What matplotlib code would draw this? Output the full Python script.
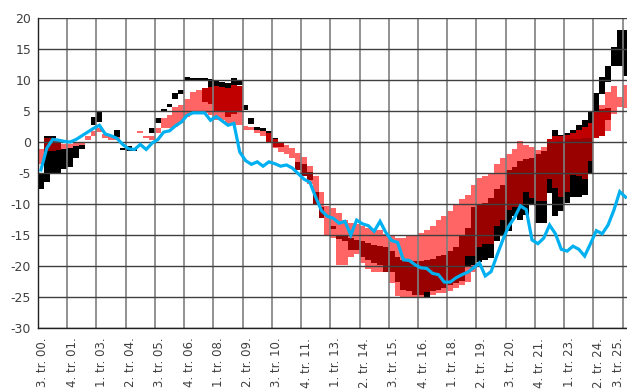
import numpy as np
import matplotlib
matplotlib.use('Agg')
import matplotlib.pyplot as plt
import matplotlib.transforms as mtransforms

nan = np.nan

# x tick labels (every 5th quarter, 3Q2000 .. 3Q2025)
tick_labels = ['3. tr. 00.', '4. tr. 01.', '1. tr. 03.', '2. tr. 04.', '3. tr. 05.',
               '4. tr. 06.', '1. tr. 08.', '2. tr. 09.', '3. tr. 10.', '4. tr. 11.',
               '1. tr. 13.', '2. tr. 14.', '3. tr. 15.', '4. tr. 16.', '1. tr. 18.',
               '2. tr. 19.', '3. tr. 20.', '4. tr. 21.', '1. tr. 23.', '2. tr. 24.',
               '3. tr. 25.']

# blue line, one value per quarter
plava = [-4.5, -1.0, 0.4, 0.3, 0.1, 0.0, 0.4, 1.0, 1.6, 2.2,
         2.7, 1.3, 1.0, 0.6, -0.4, -1.1, -1.2, -0.4, -1.2, -0.2,
         0.4, 1.6, 1.8, 2.6, 3.2, 4.3, 4.7, 4.7, 4.7, 3.5,
         4.1, 3.4, 2.7, 3.0, -1.6, -3.0, -3.6, -3.2, -3.9, -3.2,
         -3.5, -3.9, -3.7, -4.2, -5.1, -6.0, -6.5, -8.9, -11.1, -12.0,
         -12.3, -13.1, -12.8, -15.0, -12.6, -13.2, -13.5, -14.4, -12.8, -14.6,
         -15.9, -16.2, -19.0, -19.1, -19.8, -20.3, -20.4, -21.2, -21.4, -22.6,
         -22.6, -21.9, -21.4, -21.0, -20.3, -19.5, -21.6, -20.9, -18.3, -15.8,
         -13.6, -12.2, -10.3, -10.9, -15.8, -16.4, -15.5, -13.4, -14.8, -17.3,
         -17.6, -16.8, -17.3, -18.4, -16.4, -14.3, -14.8, -13.4, -11.0, -8.0,
         -8.9]

# light red ranges (low, high)
roza_lo = [-3.6, nan, nan, nan, -1.2, -1.0, -0.8, -0.5, 0.3, 1.0,
           1.6, 0.6, 0.4, 0.3, nan, nan, nan, 1.5, 0.7, 0.3,
           1.5, 2.2, 2.2, 2.5, 3.0, 4.0, 4.6, 4.6, 4.6, 4.3,
           3.5, 3.5, 2.7, 2.7, 2.7, 2.0, 1.9, 1.4, 1.0, nan,
           -0.9, -1.6, -2.0, -2.6, -3.5, -5.0, -6.7, -9.5, -11.2, -15.0,
           -15.5, -19.8, -19.8, -18.5, -18.0, -19.5, -20.5, -21.0, -21.0, -21.0,
           -22.7, -24.9, -25.2, -25.2, -25.0, -25.0, -24.6, -24.6, -24.4, -24.4,
           -24.0, -23.5, -23.0, -22.5, -21.0, -17.5, -17.0, -17.0, -14.0, -13.0,
           -11.7, -11.0, -10.9, -8.5, -9.3, -10.1, -10.0, -6.3, nan, nan,
           nan, nan, nan, nan, nan, nan, 1.5, 1.7, 4.5, 5.7,
           5.5]
roza_hi = [-1.2, nan, nan, nan, -0.4, -0.3, -0.2, 0.0, 1.0, 1.8,
           2.3, 1.3, 1.0, 0.8, nan, nan, nan, 1.8, 1.0, 1.0,
           2.3, 3.8, 4.4, 5.7, 6.0, 7.0, 8.0, 8.4, 8.5, 6.4,
           5.2, 5.0, 4.5, 4.6, 5.0, 2.6, 2.5, 2.0, 1.8, nan,
           0.0, 0.0, -0.5, -1.0, -1.8, -2.4, -3.8, -5.5, -8.0, -10.4,
           -10.6, -11.5, -12.5, -13.0, -13.3, -13.6, -13.8, -14.0, -14.2, -14.8,
           -15.0, -15.5, -15.5, -15.2, -15.0, -14.6, -14.2, -13.6, -12.6, -12.0,
           -11.2, -10.0, -9.2, -8.5, -7.0, -5.8, -5.5, -5.0, -3.5, -2.6,
           -2.0, -1.2, 0.2, -0.5, -0.8, -1.3, -0.8, 0.5, nan, nan,
           nan, nan, nan, nan, nan, nan, 6.0, 8.0, 9.0, 7.3,
           9.2]

# black ranges (low, high)
crna_lo = [-7.5, -6.5, -5.2, -5.2, -4.4, -4.1, -2.5, -1.1, nan, 2.8,
           3.3, nan, nan, 0.8, -1.3, -1.5, -1.5, nan, nan, 1.5,
           3.0, 4.9, 5.7, 7.0, 7.8, 10.0, 10.0, 10.0, 9.8, 7.6,
           8.9, 8.9, 8.7, 9.2, 9.2, 5.2, 2.9, 1.9, 1.7, 1.1,
           0.0, nan, nan, nan, nan, nan, nan, nan, nan, nan,
           nan, nan, nan, nan, nan, nan, nan, nan, nan, nan,
           nan, nan, nan, nan, nan, nan, -25.0, nan, nan, nan,
           nan, nan, nan, -20.0, -19.8, -19.3, -19.0, -18.7, -16.0, -15.2,
           -14.4, -12.0, -12.5, -11.7, -10.0, -13.0, -13.0, -8.2, -12.0, -11.2,
           -9.8, -8.8, -8.8, -8.5, -5.0, 4.8, 7.7, 9.6, 12.3, 12.2,
           10.7]
crna_hi = [-5.0, 1.0, 0.9, -1.0, -1.2, -0.9, -0.6, -0.5, nan, 4.0,
           4.8, nan, nan, 1.9, -0.9, -0.7, -1.0, nan, nan, 2.2,
           3.8, 5.4, 6.2, 7.9, 8.4, 10.5, 10.4, 10.3, 10.4, 10.2,
           9.8, 9.7, 9.5, 10.3, 10.0, 6.0, 3.8, 2.5, 2.3, 1.7,
           0.7, nan, nan, nan, nan, nan, nan, nan, nan, nan,
           nan, nan, nan, nan, nan, nan, nan, nan, nan, nan,
           nan, nan, nan, nan, nan, nan, -24.2, nan, nan, nan,
           nan, nan, nan, -18.4, -18.4, -17.0, -16.5, -16.5, -13.5, -12.5,
           -11.0, -10.5, -10.5, -8.0, -9.0, -9.5, -9.5, -6.0, 2.0, 1.2,
           1.5, 2.0, 2.8, 3.6, 4.9, 7.9, 10.5, 12.2, 15.4, 18.1,
           18.1]

# dark red ranges (low, high)
tamna_lo = [nan, -1.5, -1.5, -1.3, nan, nan, nan, nan, nan, nan,
            nan, nan, nan, nan, nan, nan, nan, nan, nan, nan,
            nan, nan, nan, nan, nan, nan, nan, nan, nan, nan,
            nan, nan, nan, nan, nan, nan, nan, nan, nan, nan,
            nan, nan, nan, nan, -4.5, -5.5, -6.1, -10.0, -12.3, nan,
            -14.1, -15.6, -16.0, -17.4, -17.4, -18.5, -19.0, -19.5, -19.8, -20.9,
            -20.9, -22.5, -23.8, -24.0, -24.6, -24.6, -24.2, -24.0, -23.8, -23.6,
            -23.0, -22.7, -22.4, -18.4, -18.4, -17.0, -16.5, -16.5, -13.5, -12.5,
            -11.0, -10.5, -10.5, -8.0, -9.0, -9.5, -9.5, -6.0, -7.4, -8.8,
            -8.0, -5.3, -5.5, -6.0, -3.1, nan, nan, nan, nan, nan,
            nan]
tamna_hi = [nan, 0.7, 0.7, 0.4, nan, nan, nan, nan, nan, nan,
            nan, nan, nan, nan, nan, nan, nan, nan, nan, nan,
            nan, nan, nan, nan, nan, nan, nan, nan, nan, nan,
            nan, nan, nan, nan, nan, nan, nan, nan, nan, nan,
            nan, nan, nan, nan, -3.3, -3.6, -4.8, -8.0, -10.5, nan,
            -13.6, -15.0, -15.2, -15.5, -15.8, -16.0, -16.3, -16.6, -16.8, -17.0,
            -17.5, -18.5, -19.0, -19.2, -19.2, -19.2, -19.0, -18.8, -18.4, -18.2,
            -17.5, -17.0, -15.2, -13.8, -10.5, -10.2, -9.8, -9.0, -7.5, -7.0,
            -4.5, -4.0, -3.0, -2.8, -2.5, -2.0, -1.5, 0.0, 0.0, 0.2,
            0.3, 0.5, 0.5, 0.6, 0.6, nan, nan, nan, nan, nan,
            nan]

# bright red ranges (low, high)
crvena_lo = [nan] * 28 + [6.4, 6.2, 4.9, 4.9, 4.0, 4.5, 5.0, nan, nan, nan,
                          nan, 0.0, -0.8, -0.8] + [nan] * 45 + \
            [0.0, 0.0, 0.2, 0.3, 0.5, 0.5, 0.6, 0.6, 0.6, 1.0, 3.5, nan, nan, nan]
crvena_hi = [nan] * 28 + [8.7, 8.8, 9.0, 8.9, 8.7, 9.2, 9.0, nan, nan, nan,
                          nan, 1.4, 0.5, 0.0] + [nan] * 45 + \
            [0.5, 0.9, 0.9, 1.2, 1.5, 2.0, 2.4, 3.0, 5.0, 5.3, 5.5, nan, nan, nan]

x = np.arange(len(plava))

plt.rcParams['axes.unicode_minus'] = False

fig = plt.figure(figsize=(6.27, 3.92), dpi=100)
ax = fig.add_axes([38 / 627, 64 / 392, 590.5 / 627, 310 / 392])


def rang(lo, hi, color):
    lo = np.array(lo, dtype=float)
    hi = np.array(hi, dtype=float)
    m = ~np.isnan(lo)
    ax.bar(x[m], hi[m] - lo[m], bottom=lo[m], width=1.0, color=color,
           linewidth=0, zorder=1)


# drawing order: light red, black, dark red, bright red
rang(roza_lo, roza_hi, '#FF6565')
rang(crna_lo, crna_hi, '#000000')
rang(tamna_lo, tamna_hi, '#990000')
rang(crvena_lo, crvena_hi, '#C00000')

ax.plot(x, plava, color='#00B0F0', linewidth=2.3, zorder=4,
        solid_joinstyle='miter')

ax.set_xlim(-0.5, 100.5)
ax.set_ylim(-30, 20)
ax.set_yticks(range(-30, 21, 5))
ax.set_xticks([-0.5 + 5 * k for k in range(len(tick_labels))])
ax.set_xticklabels(tick_labels, rotation=90, va='top', ha='center')

ax.set_axisbelow(False)
ax.grid(axis='y', color='#404040', linewidth=1.0, zorder=2)
ax.grid(axis='x', color='#7f7f7f', linewidth=1.2, zorder=2)
ax.tick_params(axis='both', length=0, colors='#404040')
ax.tick_params(axis='x', labelsize=8.5, pad=7)
ax.tick_params(axis='y', labelsize=9, pad=5)

for s in ['top', 'right']:
    ax.spines[s].set_visible(False)
for s in ['left', 'bottom']:
    ax.spines[s].set_color('#202020')
    ax.spines[s].set_linewidth(1.0)
    ax.spines[s].set_zorder(3)

# labels sit a little right of their gridline, the last one is pulled in
labs = ax.get_xticklabels()
shift = mtransforms.ScaledTranslation(0.05, 0, fig.dpi_scale_trans)
for lab in labs[:-1]:
    lab.set_transform(lab.get_transform() + shift)
back = mtransforms.ScaledTranslation(-0.04, 0, fig.dpi_scale_trans)
labs[-1].set_transform(labs[-1].get_transform() + back)

fig.savefig('out.png', dpi=100)
